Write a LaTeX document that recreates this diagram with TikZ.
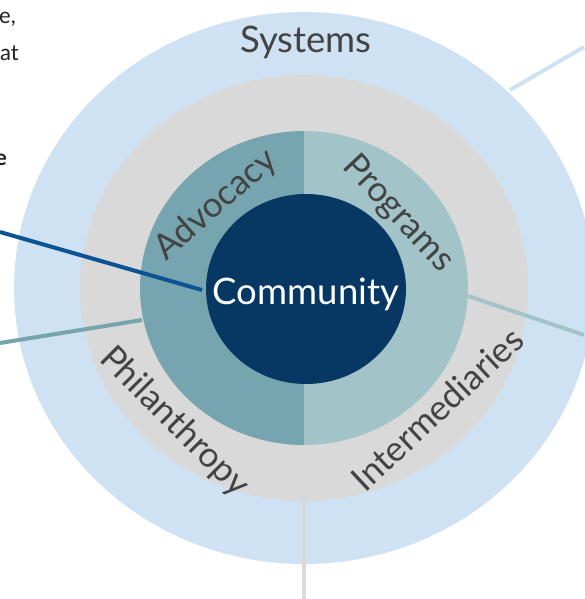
\documentclass[tikz,border=0pt]{standalone}
\usepackage{fontspec}
\setmainfont{Lato}
\definecolor{sysblue}{HTML}{CFE2F3}
\definecolor{midgray}{HTML}{D9D9D9}
\definecolor{tealdark}{HTML}{76A5AF}
\definecolor{teallight}{HTML}{A2C4C9}
\definecolor{navy}{HTML}{073763}
\definecolor{linkblue}{HTML}{0B5394}
\definecolor{labelgray}{HTML}{434343}
\definecolor{bodytext}{HTML}{222222}
\tikzset{
  ringlabel/.style={inner sep=0pt, text=labelgray, font=\fontsize{35}{40}\selectfont},
  biglabel/.style={ringlabel, font=\fontsize{36.5}{42}\selectfont},
  sidetext/.style={inner sep=0pt, anchor=base east, text=bodytext, font=\fontsize{22}{26}\selectfont},
  link/.style={line width=4pt},
}
\begin{document}
\begin{tikzpicture}[x=1pt,y=-1pt]
\useasboundingbox (0,0) rectangle (584,599);
% concentric rings
\coordinate (ctr) at (304,288);
\fill[sysblue] (ctr) ellipse[x radius=290, y radius=276];
\fill[midgray] (ctr) ellipse[x radius=224, y radius=213];
\begin{scope}
  \clip (0,0) rectangle (304,599);
  \fill[tealdark] (ctr) ellipse[x radius=164, y radius=157];
\end{scope}
\begin{scope}
  \clip (304,0) rectangle (584,599);
  \fill[teallight] (ctr) ellipse[x radius=164, y radius=157];
\end{scope}
\fill[navy] (306,289) ellipse[x radius=100, y radius=95];

% labels
\node[biglabel] (sys) at (306,42) {Systems};
\node[biglabel, text=white] (com) at (306,294) {Community};
\node[ringlabel, rotate=41] (adv) at (216,205) {Advocacy};
\node[ringlabel, rotate=-47] (prog) at (398,214) {Programs};
\node[ringlabel, rotate=-45] (phil) at (174,422) {Philanthropy};
\node[ringlabel, rotate=43] (inter) at (437,409) {Intermediaries};

% text running in from the left margin
\node[sidetext] (t1) at (16,24) {e,};
\node[sidetext] (t2) at (19,61) {at};
\node[sidetext, font=\fontsize{22}{26}\selectfont\bfseries] (t3) at (7,165) {e};

% connectors
\coordinate (comIn) at (202,290);
\coordinate (comOut) at (0,232);
\coordinate (advIn) at (142,320);
\coordinate (advOut) at (0,343);
\coordinate (progIn) at (468,296);
\coordinate (progOut) at (584,335);
\coordinate (sysIn) at (510,90);
\coordinate (sysOut) at (584,47);
\coordinate (midIn) at (304,500);
\coordinate (midOut) at (304,599);
\draw[link, linkblue] (comOut) -- (comIn);
\draw[link, tealdark] (advOut) -- (advIn);
\draw[link, teallight] (progIn) -- (progOut);
\draw[link, sysblue] (sysIn) -- (sysOut);
\draw[link, midgray] (midIn) -- (midOut);
\end{tikzpicture}
\end{document}
